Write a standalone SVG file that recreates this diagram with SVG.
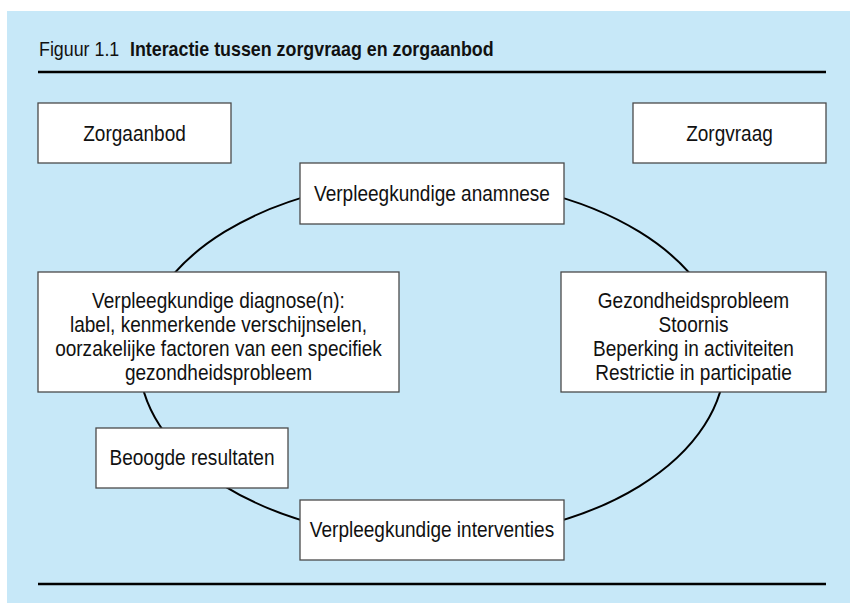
<svg xmlns="http://www.w3.org/2000/svg" width="850" height="603" viewBox="0 0 850 603">
<style>
.bg{fill:#c7e8f8}
.rule{stroke:#000;stroke-width:2.5}
.box{fill:#fff;stroke:#4a4a4a;stroke-width:1.3}
.t{font-family:"Liberation Sans",Arial,sans-serif;font-size:21.5px;fill:#111;text-anchor:middle}
.title{font-family:"Liberation Sans",Arial,sans-serif;font-size:21px;fill:#111}
.cycle{fill:none;stroke:#000;stroke-width:2}
</style>
<rect class="bg" x="7" y="11" width="843" height="592"/>
<g id="title">
<text class="title" transform="translate(39 56) scale(0.85 1)"><tspan x="0">Figuur 1.1</tspan><tspan x="107" font-weight="bold">Interactie tussen zorgvraag en zorgaanbod</tspan></text>
<line class="rule" x1="38" y1="72" x2="826" y2="72"/>
<line class="rule" x1="38" y1="584" x2="826" y2="584"/>
</g>
<g id="connectors">
<ellipse class="cycle" cx="432" cy="359" rx="293" ry="180"/>
</g>
<g id="zorgaanbod">
<rect class="box" x="38" y="103" width="193" height="60"/>
<text class="t" transform="translate(134.5 141) scale(0.885 1)">Zorgaanbod</text>
</g>
<g id="zorgvraag">
<rect class="box" x="633" y="103" width="193" height="60"/>
<text class="t" transform="translate(729.5 141) scale(0.885 1)">Zorgvraag</text>
</g>
<g id="anamnese">
<rect class="box" x="300" y="163" width="264" height="61"/>
<text class="t" transform="translate(432 201) scale(0.885 1)">Verpleegkundige anamnese</text>
</g>
<g id="diagnose">
<rect class="box" x="38" y="272" width="361" height="120"/>
<text class="t" transform="translate(218.5 308) scale(0.885 1)"><tspan x="0" y="0">Verpleegkundige diagnose(n):</tspan><tspan x="0" y="24">label, kenmerkende verschijnselen,</tspan><tspan x="0" y="48">oorzakelijke factoren van een specifiek</tspan><tspan x="0" y="72">gezondheidsprobleem</tspan></text>
</g>
<g id="gezondheidsprobleem">
<rect class="box" x="561" y="272" width="265" height="120"/>
<text class="t" transform="translate(693.5 308) scale(0.885 1)"><tspan x="0" y="0">Gezondheidsprobleem</tspan><tspan x="0" y="24">Stoornis</tspan><tspan x="0" y="48">Beperking in activiteiten</tspan><tspan x="0" y="72">Restrictie in participatie</tspan></text>
</g>
<g id="resultaten">
<rect class="box" x="96" y="428" width="192" height="60"/>
<text class="t" transform="translate(192 465) scale(0.885 1)">Beoogde resultaten</text>
</g>
<g id="interventies">
<rect class="box" x="300" y="500" width="264" height="60"/>
<text class="t" transform="translate(432 537) scale(0.885 1)">Verpleegkundige interventies</text>
</g>
</svg>
